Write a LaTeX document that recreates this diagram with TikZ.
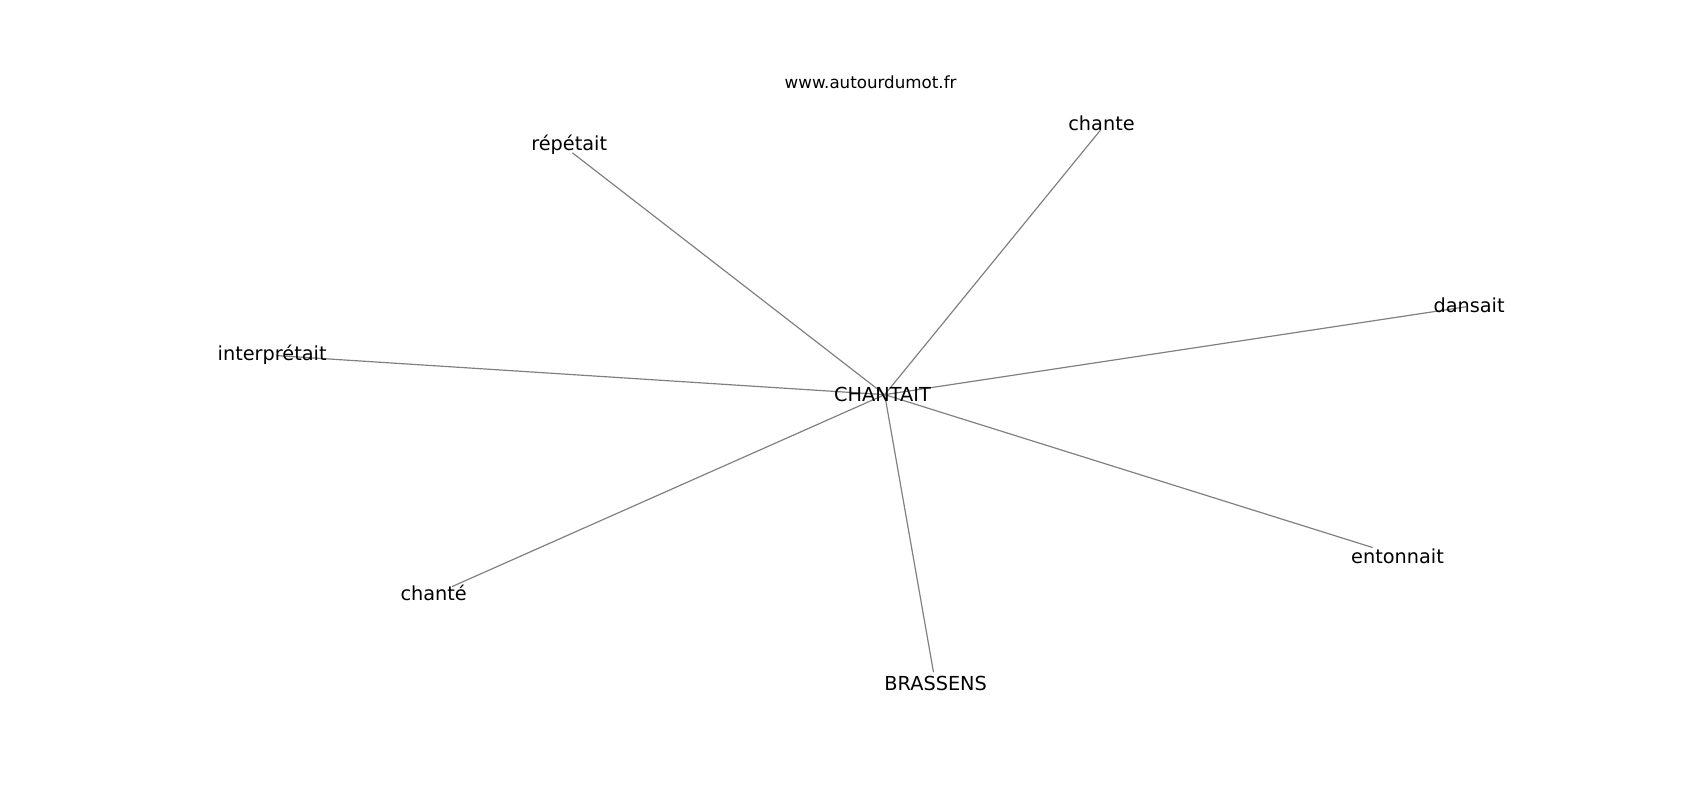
\documentclass[tikz,border=0pt]{standalone}
\usepackage{fontspec}
\setmainfont{DejaVu Sans}
\begin{document}
\begin{tikzpicture}[x=1pt,y=-1pt,
		word/.style={font=\fontsize{17.8}{21}\selectfont, inner sep=0pt},
		site/.style={font=\fontsize{15.4}{18}\selectfont, inner sep=0pt},
		edge/.style={draw=black!50, line width=1.1pt}]
		\useasboundingbox (0,0) rectangle (1568,738);
		% vertices
		\coordinate (hub) at (816,364);
		\coordinate (repetait) at (528,141);
		\coordinate (chante) at (1015,120);
		\coordinate (dansait) at (1352,283);
		\coordinate (interpretait) at (255,328);
		\coordinate (entonnait) at (1266,505);
		\coordinate (chanteP) at (417,541);
		\coordinate (brassens) at (861,620);
		%
		\foreach \w in {repetait,chante,dansait,interpretait,entonnait,chanteP,brassens}
			\draw [edge] (hub) to (\w);
		%
		\node[site] (url) at (803,76) {www.autourdumot.fr};
		\node[word] (hub-l) at (814,364) {CHANTAIT};
		\node[word] (repetait-l) at (525,134) {répétait};
		\node[word] (chante-l) at (1016,114) {chante};
		\node[word] (dansait-l) at (1355,282) {dansait};
		\node[word] (interpretait-l) at (251,327) {interprétait};
		\node[word] (entonnait-l) at (1289,513) {entonnait};
		\node[word] (chanteP-l) at (400,547) {chanté};
		\node[word] (brassens-l) at (863,630) {BRASSENS};
	\end{tikzpicture}
\end{document}
